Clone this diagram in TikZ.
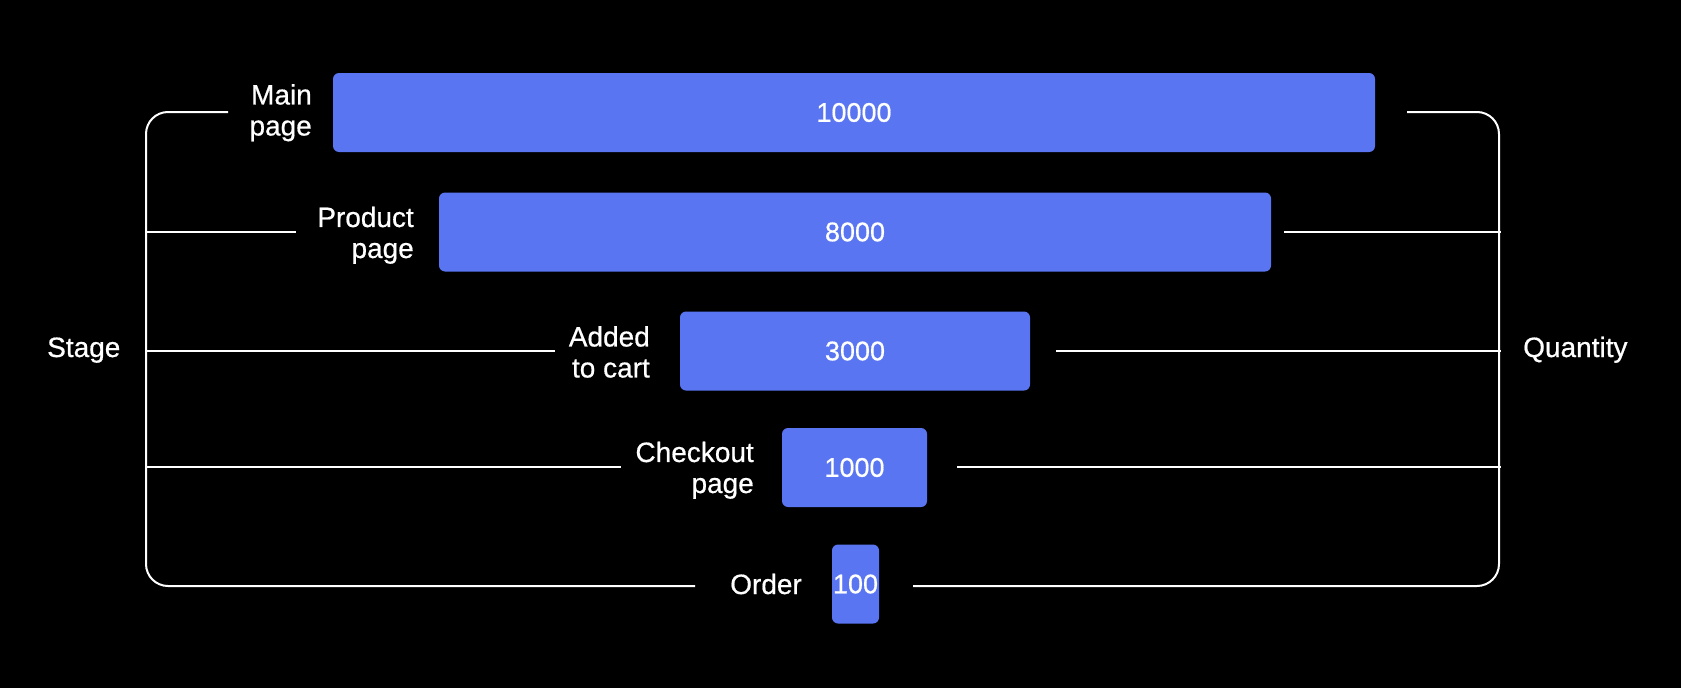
\documentclass[tikz,border=0pt]{standalone}
\usepackage{fontspec}
\setmainfont{Liberation Sans}[FakeBold=0.6]
\definecolor{barblue}{RGB}{90,117,242}
\begin{document}
\begin{tikzpicture}[x=1pt,y=-1pt,
  bar/.style={fill=barblue, rounded corners=6pt, draw=none, inner sep=0pt, text=white,
    minimum height=79pt, font=\fontsize{27}{31}\selectfont},
  lbl/.style={text=white, align=right, inner sep=0pt, font=\fontsize{28}{31}\selectfont},
  side/.style={text=white, inner sep=0pt, font=\fontsize{28}{31}\selectfont},
  wire/.style={draw=white, line width=2pt},
  bracket/.style={wire, rounded corners=22pt}]
\fill[black] (0,0) rectangle (1681,688);
\useasboundingbox (0,0) rectangle (1681,688);

% bars
\node[bar, minimum width=1042pt] (b1) at (854,112.5) {10000};
\node[bar, minimum width=832pt]  (b2) at (855,232) {8000};
\node[bar, minimum width=350pt]  (b3) at (855,351) {3000};
\node[bar, minimum width=145pt]  (b4) at (854.5,467.5) {1000};
\node[bar, minimum width=47pt]   (b5) at (855.5,584) {100};

% stage labels
\node[lbl, anchor=north east] (l1) at (312,84) {Main\\page};
\node[lbl, anchor=north east] (l2) at (414,206.5) {Product\\page};
\node[lbl, anchor=north east] (l3) at (650,326) {Added\\to cart};
\node[lbl, anchor=north east] (l4) at (754,441.5) {Checkout\\page};
\node[side, anchor=base east] (l5) at (802,594) {Order};

% axis labels
\node[side, anchor=base west] (stage) at (47,357) {Stage};
\node[side, anchor=base west] (qty) at (1523,357) {Quantity};

% left bracket coordinates
\coordinate (LT) at (146,112);
\coordinate (LB) at (146,586);
\coordinate (L1) at (228,112);
\coordinate (L2) at (296,232);
\coordinate (L3) at (555,351);
\coordinate (L4) at (621,467);
\coordinate (L5) at (695,586);
\coordinate (V2) at (146,232);
\coordinate (V3) at (146,351);
\coordinate (V4) at (146,467);

% right bracket coordinates
\coordinate (RT) at (1499,112);
\coordinate (RB) at (1499,586);
\coordinate (R1) at (1407,112);
\coordinate (R2) at (1284,232);
\coordinate (R3) at (1056,351);
\coordinate (R4) at (957,467);
\coordinate (R5) at (913,586);
\coordinate (W2) at (1501,232);
\coordinate (W3) at (1501,351);
\coordinate (W4) at (1501,467);

\draw[bracket] (L1) -- (LT) -- (LB) -- (L5);
\draw[wire] (V2) -- (L2);
\draw[wire] (V3) -- (L3);
\draw[wire] (V4) -- (L4);

\draw[bracket] (R1) -- (RT) -- (RB) -- (R5);
\draw[wire] (R2) -- (W2);
\draw[wire] (R3) -- (W3);
\draw[wire] (R4) -- (W4);
\end{tikzpicture}
\end{document}
